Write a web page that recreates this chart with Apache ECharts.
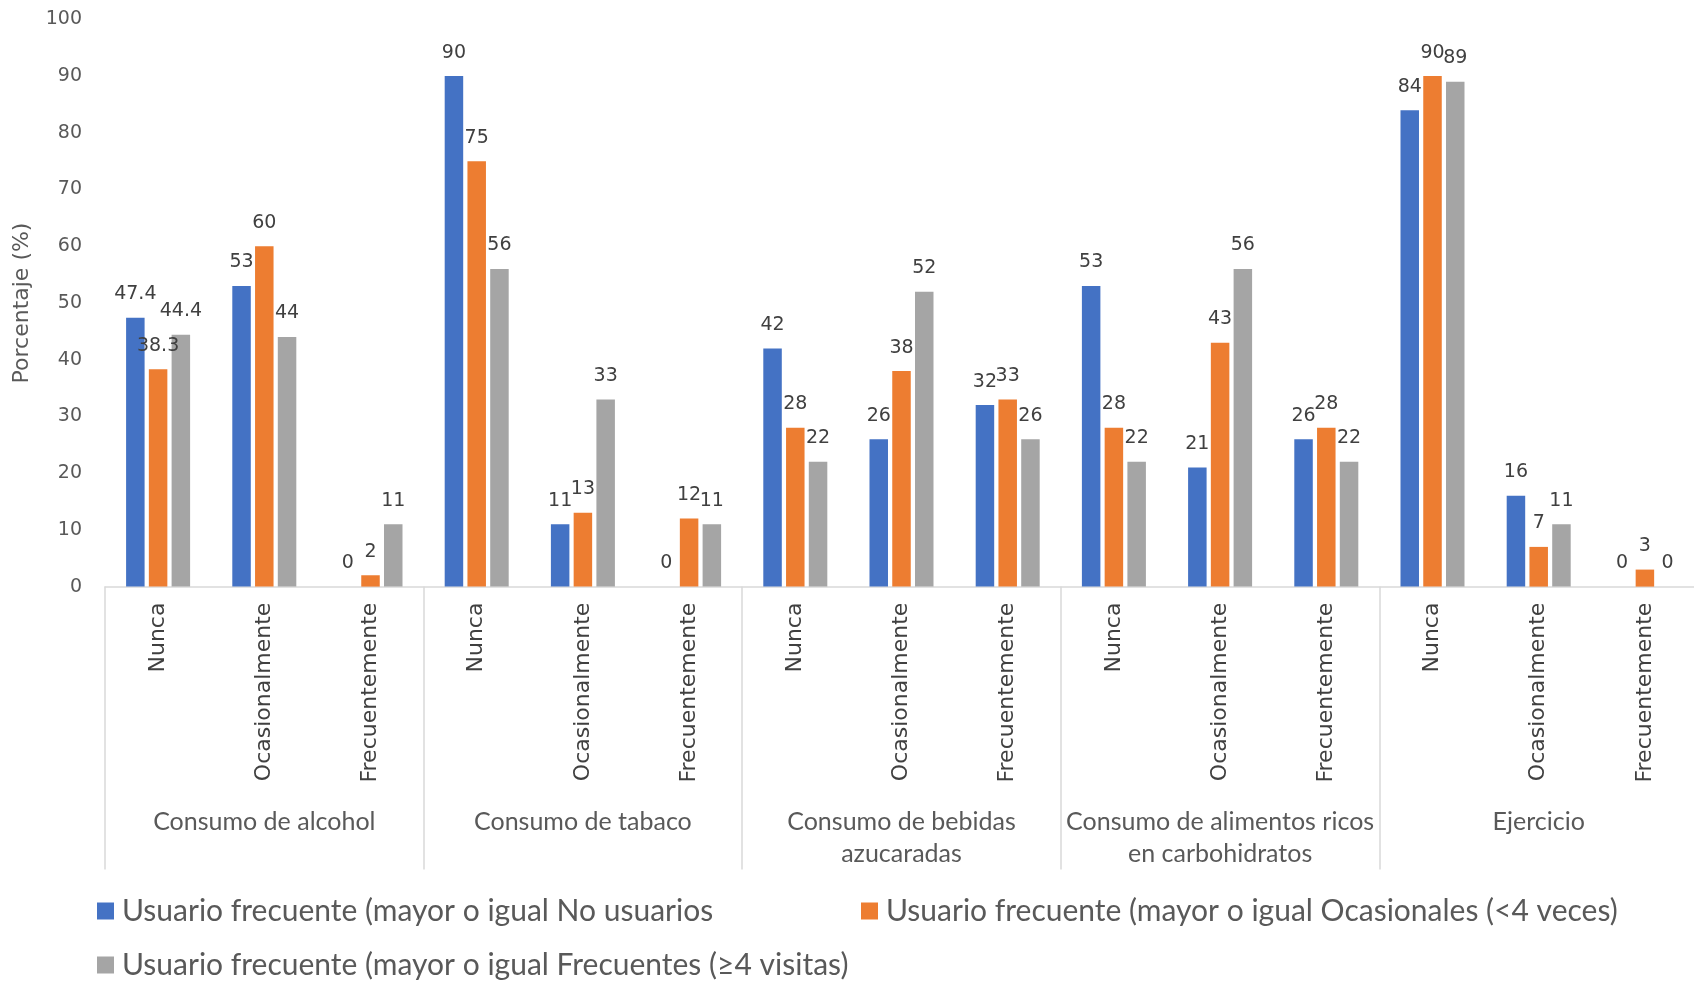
<!DOCTYPE html>
<html>
<head>
<meta charset="utf-8">
<script src="https://cdn.jsdelivr.net/npm/echarts@6/dist/echarts.min.js"></script>
<style>
  html, body { margin: 0; padding: 0; background: #ffffff; }
  #chart { width: 1694px; height: 982px; }
</style>
</head>
<body>
<div id="chart"></div>
<script>
// Sub-categories (frequency), repeated inside each habit group
const subCategories = [
  'Nunca', 'Ocasionalmente', 'Frecuentemente',
  'Nunca', 'Ocasionalmente', 'Frecuentemente',
  'Nunca', 'Ocasionalmente', 'Frecuentemente',
  'Nunca', 'Ocasionalmente', 'Frecuentemente',
  'Nunca', 'Ocasionalmente', 'Frecuentemente'
];
// Habit groups
const groups = [
  'Consumo de alcohol',
  'Consumo de tabaco',
  'Consumo de bebidas\nazucaradas',
  'Consumo de alimentos ricos\nen carbohidratos',
  'Ejercicio'
];
const seriesNames = [
  'Usuario frecuente (mayor o igual No usuarios',
  'Usuario frecuente (mayor o igual Ocasionales (<4 veces)',
  'Usuario frecuente (mayor o igual Frecuentes (≥4 visitas)'
];
// Percentages per sub-category
const noUsuarios   = [47.4, 53, 0, 90, 11, 0, 42, 26, 32, 53, 21, 26, 84, 16, 0];
const ocasionales  = [38.3, 60, 2, 75, 13, 12, 28, 38, 33, 28, 43, 28, 90, 7, 3];
const frecuentes   = [44.4, 44, 11, 56, 33, 11, 22, 52, 26, 22, 56, 22, 89, 11, 0];
const yTicks = { min: 0, max: 100, interval: 10 };

const colors = ['#4472C4', '#ED7D31', '#A5A5A5'];
const numFont = 'DejaVu Sans';
const textFont = "Lato, 'Liberation Sans', sans-serif";

const chart = echarts.init(document.getElementById('chart'), null, { renderer: 'canvas' });

function barSeries(name, data, color) {
  return {
    name: name,
    type: 'bar',
    data: data,
    barWidth: 18.5,
    barGap: '23%',
    itemStyle: { color: color },
    label: {
      show: true,
      position: 'top',
      distance: 14,
      color: '#404040',
      fontFamily: numFont,
      fontSize: 19
    },
    emphasis: { disabled: true }
  };
}

function legendAt(name, color, left, top) {
  return {
    data: [{ name: name, icon: 'rect', itemStyle: { color: color } }],
    left: left,
    top: top,
    padding: 0,
    itemWidth: 17,
    itemHeight: 17,
    selectedMode: false,
    textStyle: {
      color: '#595959',
      fontFamily: textFont,
      fontSize: 30,
      lineHeight: 34,
      padding: [0, 0, 0, 3]
    }
  };
}

chart.setOption({
  animation: false,
  backgroundColor: '#ffffff',
  grid: {
    left: 105, right: -4, top: 19.4, bottom: 395.4,
    containLabel: false,
    outerBoundsMode: 'none'
  },
  legend: [
    legendAt(seriesNames[0], colors[0], 97, 894),
    legendAt(seriesNames[1], colors[1], 861, 894),
    legendAt(seriesNames[2], colors[2], 97, 948)
  ],
  xAxis: [
    {
      type: 'category',
      data: subCategories,
      position: 'bottom',
      axisLine: { show: true, lineStyle: { color: '#D9D9D9', width: 1.5 } },
      axisTick: { show: false },
      axisLabel: {
        interval: 0,
        rotate: 90,
        margin: 16,
        color: '#404040',
        fontFamily: numFont,
        fontSize: 22
      }
    },
    {
      type: 'category',
      data: groups,
      position: 'bottom',
      axisLine: { show: false },
      axisTick: {
        show: true,
        interval: 0,
        alignWithLabel: false,
        length: 283,
        lineStyle: { color: '#D9D9D9', width: 1.5 }
      },
      axisLabel: {
        interval: 0,
        margin: 219,
        color: '#595959',
        fontFamily: textFont,
        fontSize: 25,
        lineHeight: 32
      }
    }
  ],
  yAxis: {
    type: 'value',
    min: yTicks.min,
    max: yTicks.max,
    interval: yTicks.interval,
    name: 'Porcentaje (%)',
    nameLocation: 'middle',
    nameGap: 72,
    nameTextStyle: { color: '#595959', fontFamily: numFont, fontSize: 22 },
    axisLine: { show: false },
    axisTick: { show: false },
    splitLine: { show: false },
    axisLabel: { color: '#595959', fontFamily: numFont, fontSize: 19, margin: 23 }
  },
  series: [
    barSeries(seriesNames[0], noUsuarios, colors[0]),
    barSeries(seriesNames[1], ocasionales, colors[1]),
    barSeries(seriesNames[2], frecuentes, colors[2])
  ]
});
</script>
</body>
</html>
